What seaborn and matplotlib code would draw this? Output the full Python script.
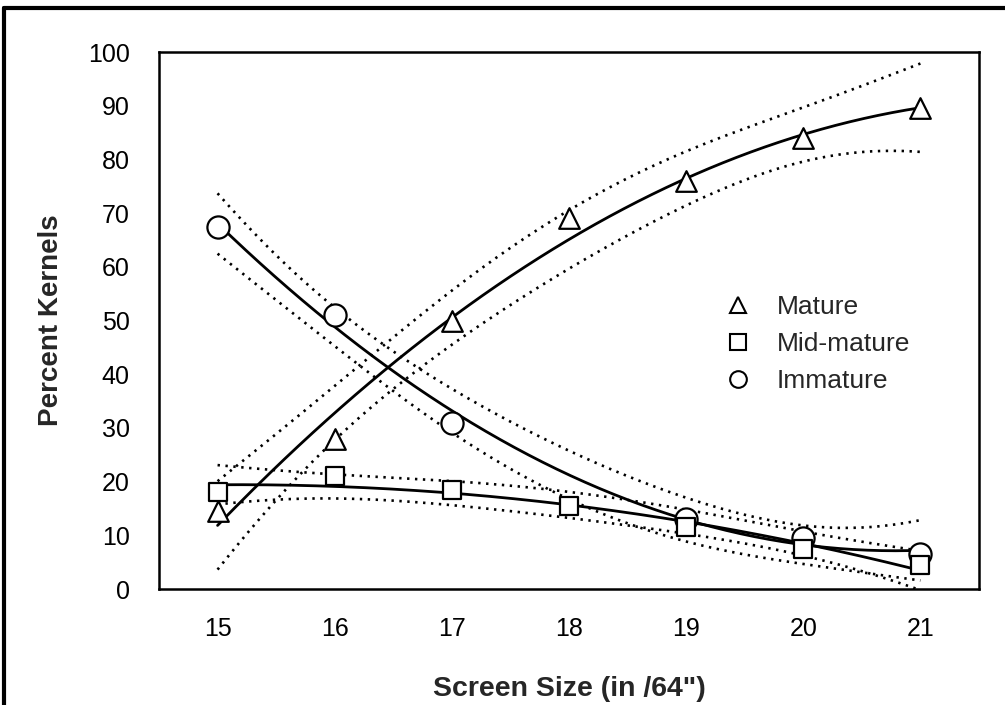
import numpy as np
import pandas as pd
import matplotlib
matplotlib.use("Agg")
import matplotlib.pyplot as plt
from matplotlib.lines import Line2D
import seaborn as sns

# ---- data ----
screen_size = [15, 16, 17, 18, 19, 20, 21]
mature = [14.5, 28.0, 50.0, 69.0, 76.0, 84.0, 89.5]
mid_mature = [18.0, 21.0, 18.5, 15.5, 11.5, 7.5, 4.5]
immature = [67.5, 51.0, 31.0, np.nan, 13.0, 9.5, 6.5]  # no circle visible at 18
series_names = ["Mature", "Mid-mature", "Immature"]
series_markers = ["^", "s", "o"]
y_ticks = list(range(0, 101, 10))
x_label = 'Screen Size (in /64")'
y_label = "Percent Kernels"

sns.set_theme(style="white")
plt.rcParams["font.family"] = ["Liberation Sans", "DejaVu Sans"]

T975 = {2: 4.303, 3: 3.182, 4: 2.776, 5: 2.571}


def quad_fit(x, y):
    x = np.asarray(x, float)
    y = np.asarray(y, float)
    m = ~np.isnan(y)
    x, y = x[m], y[m]
    X = np.column_stack([np.ones_like(x), x, x ** 2])
    beta, *_ = np.linalg.lstsq(X, y, rcond=None)
    resid = y - X @ beta
    df = len(x) - 3
    s2 = resid @ resid / df
    cov = s2 * np.linalg.inv(X.T @ X)
    xs = np.linspace(x.min(), x.max(), 200)
    Xs = np.column_stack([np.ones_like(xs), xs, xs ** 2])
    fit = Xs @ beta
    se = np.sqrt(np.einsum("ij,jk,ik->i", Xs, cov, Xs))
    t = T975[df]
    return xs, fit, fit - t * se, fit + t * se


pts_rows = []
fit_rows = []
for name, vals in zip(series_names, [mature, mid_mature, immature]):
    for xv, yv in zip(screen_size, vals):
        pts_rows.append({"x": xv, "y": yv, "series": name})
    xs, fit, lo, hi = quad_fit(screen_size, vals)
    for kind, arr in [("fit", fit), ("lo", lo), ("hi", hi)]:
        for xv, yv in zip(xs, arr):
            fit_rows.append({"x": xv, "y": yv, "series": name, "kind": kind})
pts = pd.DataFrame(pts_rows).dropna()
fits = pd.DataFrame(fit_rows)

fig = plt.figure(figsize=(10.05, 7.05), dpi=100)
ax = fig.add_axes([0.1582, 0.1645, 0.9741 - 0.1582, 0.9262 - 0.1645])

for name in series_names:
    for kind in ["lo", "hi"]:
        d = fits[(fits.series == name) & (fits.kind == kind)]
        sns.lineplot(data=d, x="x", y="y", ax=ax, color="black", lw=1.9,
                     linestyle=(0, (0.9, 2.1)), estimator=None, sort=False,
                     zorder=2, legend=False)
    d = fits[(fits.series == name) & (fits.kind == "fit")]
    sns.lineplot(data=d, x="x", y="y", ax=ax, color="black", lw=2.0,
                 estimator=None, sort=False, zorder=3, legend=False)

sizes = {"Mature": 220, "Mid-mature": 185, "Immature": 255}
for name, mk in zip(["Immature", "Mid-mature", "Mature"], ["o", "s", "^"]):
    d = pts[pts.series == name]
    sns.scatterplot(data=d, x="x", y="y", ax=ax, marker=mk, s=sizes[name],
                    facecolor="white", edgecolor="black", linewidth=1.6,
                    zorder=4, legend=False)

ax.set_xlim(14.5, 21.5)
ax.set_ylim(0, 100)
ax.set_xticks(screen_size)
ax.set_yticks(y_ticks)
ax.tick_params(axis="both", direction="out", colors="black", labelsize=18,
               width=1.6, pad=9)
ax.tick_params(axis="y", length=12)
ax.tick_params(axis="x", length=11)
for sp in ax.spines.values():
    sp.set_color("black")
    sp.set_linewidth(1.8)
ax.set_xlabel(x_label, fontsize=20.5, fontweight="bold", labelpad=25)
ax.set_ylabel(y_label, fontsize=20, fontweight="bold", labelpad=17)

handles = [Line2D([], [], ls="none", marker=m, markersize=12,
                  markerfacecolor="white", markeredgecolor="black",
                  markeredgewidth=1.5) for m in series_markers]
ax.legend(handles, series_names, loc="upper left",
          bbox_to_anchor=(0.658, 0.592), frameon=False, fontsize=19,
          handletextpad=0.85, labelspacing=0.5, handlelength=1.2)

# outer frame of the scanned figure
fig.add_artist(Line2D([0.004, 1.0], [0.989, 0.989], color="black", lw=3,
                      transform=fig.transFigure))
fig.add_artist(Line2D([0.004, 0.004], [0.0, 0.989], color="black", lw=3,
                      transform=fig.transFigure))

fig.savefig("out.png", dpi=100)
